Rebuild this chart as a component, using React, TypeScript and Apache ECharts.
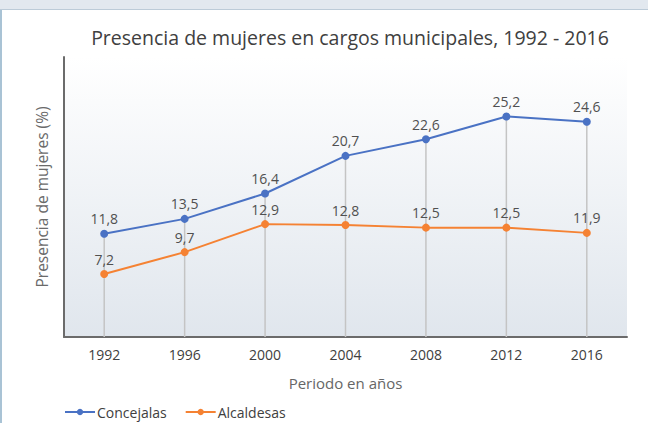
import React, { useEffect, useRef } from "react";
import * as echarts from "echarts";

const years = ["1992", "1996", "2000", "2004", "2008", "2012", "2016"];
const concejalas = [11.8, 13.5, 16.4, 20.7, 22.6, 25.2, 24.6];
const alcaldesas = [7.2, 9.7, 12.9, 12.8, 12.5, 12.5, 11.9];

const FONT = "Open Sans";
const fmt = (p: any) => String(p.value).replace(".", ",");

export default function App() {
  const ref = useRef<HTMLDivElement>(null);
  useEffect(() => {
    document.body.style.margin = "0";
    const chart = echarts.init(ref.current!, null, { renderer: "svg" });
    chart.setOption({
      animation: false,
      backgroundColor: "#ffffff",
      textStyle: { fontFamily: FONT },
      title: {
        text: "Presencia de mujeres en cargos municipales, 1992 - 2016",
        left: 345,
        textAlign: "center",
        top: 22,
        textStyle: { fontFamily: FONT, fontSize: 19.5, fontWeight: "normal", color: "#404040" },
      },
      graphic: [
        { type: "rect", shape: { x: 0, y: 0, width: 648, height: 9 }, style: { fill: "#e2e8ef" }, silent: true },
        { type: "rect", shape: { x: 0, y: 9, width: 648, height: 1 }, style: { fill: "#bccbd8" }, silent: true },
        { type: "rect", shape: { x: 0, y: 10, width: 2, height: 413 }, style: { fill: "#a9c3d5" }, silent: true },
      ],
      legend: {
        data: ["Concejalas", "Alcaldesas"],
        left: 64,
        top: 405,
        padding: 0,
        itemWidth: 30,
        itemHeight: 8,
        itemGap: 18,
        textStyle: { fontFamily: FONT, fontSize: 14, color: "#404040", padding: [0, 0, 0, -3] },
      },
      grid: {
        left: 64,
        top: 57,
        width: 563,
        height: 280,
        show: true,
        borderWidth: 0,
        backgroundColor: new echarts.graphic.LinearGradient(0, 0, 0, 1, [
          { offset: 0, color: "#ffffff" },
          { offset: 1, color: "#e0e6ed" },
        ]),
      },
      xAxis: {
        type: "category",
        data: years,
        boundaryGap: true,
        name: "Periodo en años",
        nameLocation: "middle",
        nameGap: 38,
        nameTextStyle: { fontFamily: FONT, fontSize: 15, color: "#666666" },
        axisLine: { lineStyle: { color: "#6b6b6b", width: 2 } },
        axisTick: { show: false },
        axisLabel: { fontFamily: FONT, fontSize: 14, color: "#404040", margin: 10 },
      },
      yAxis: {
        type: "value",
        min: 0,
        max: 32,
        name: "Presencia de mujeres (%)",
        nameLocation: "middle",
        nameGap: 14,
        nameTextStyle: { fontFamily: FONT, fontSize: 15.5, color: "#6a6a6a" },
        axisLine: { show: true, lineStyle: { color: "#6b6b6b", width: 2 } },
        axisTick: { show: false },
        axisLabel: { show: false },
        splitLine: { show: false },
      },
      series: [
        {
          name: "drop",
          type: "bar",
          data: concejalas,
          barWidth: 1.5,
          silent: true,
          z: 1,
          itemStyle: { color: "#c4c4c4" },
        },
        {
          name: "Concejalas",
          type: "line",
          data: concejalas,
          z: 3,
          symbol: "circle",
          symbolSize: 8,
          lineStyle: { color: "#4a72c4", width: 2 },
          itemStyle: { color: "#4a72c4" },
          label: { show: true, position: "top", distance: 4, formatter: fmt, fontFamily: FONT, fontSize: 14, color: "#505050" },
        },
        {
          name: "Alcaldesas",
          type: "line",
          data: alcaldesas,
          z: 3,
          symbol: "circle",
          symbolSize: 8,
          lineStyle: { color: "#f58233", width: 2 },
          itemStyle: { color: "#f58233" },
          label: { show: true, position: "top", distance: 4, formatter: fmt, fontFamily: FONT, fontSize: 14, color: "#505050" },
        },
      ],
    });
    return () => chart.dispose();
  }, []);
  return <div ref={ref} style={{ width: 648, height: 423 }} />;
}
